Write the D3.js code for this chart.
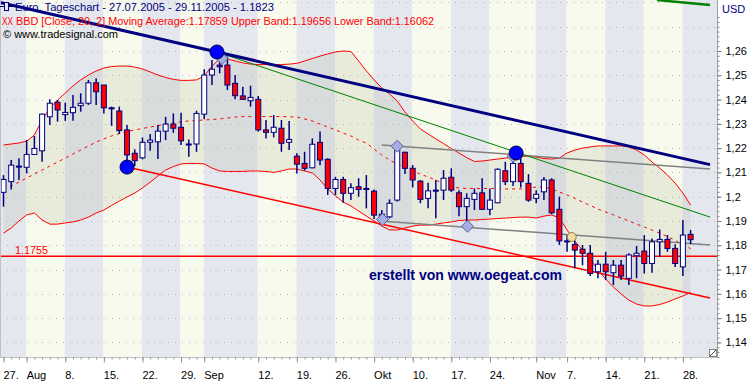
<!DOCTYPE html>
<html><head><meta charset="utf-8">
<script src="https://cdn.jsdelivr.net/npm/d3@7"></script>
<style>body{margin:0;background:#fff}svg{display:block}text{font-family:"Liberation Sans",Arial,sans-serif}</style>
</head><body><svg id="c" width="753" height="383"></svg>
<script>
// ---- data (EUR/USD daily, 27.07.2005 - 29.11.2005) ----
const open  = [1.2018,1.2062,1.2126,1.2121,1.2174,1.2189,1.2329,1.2389,1.2338,1.2346,1.2375,1.2385,1.2469,1.2460,1.2366,1.2353,1.2275,1.2179,1.2160,1.2224,1.2226,1.2270,1.2299,1.2286,1.2217,1.2217,1.2340,1.2501,1.2542,1.2542,1.2467,1.2415,1.2395,1.2401,1.2275,1.2265,1.2282,1.2224,1.2167,1.2137,1.2119,1.2224,1.2154,1.2034,1.2071,1.2014,1.2041,1.2034,1.2023,1.1912,1.1917,1.1986,1.2183,1.2117,1.2064,1.1993,1.2027,1.2027,1.2080,1.2016,1.1959,1.1989,1.2016,1.1948,1.1975,1.2107,1.2062,1.2137,1.2055,1.1993,1.2020,1.2069,1.1948,1.1818,1.1804,1.1784,1.1767,1.1691,1.1722,1.1687,1.1718,1.1664,1.1757,1.1776,1.1725,1.1814,1.1824,1.1787,1.1711,1.1845];
const high  = [1.2089,1.2151,1.2158,1.2233,1.2250,1.2343,1.2401,1.2398,1.2387,1.2419,1.2426,1.2481,1.2488,1.2460,1.2371,1.2371,1.2295,1.2195,1.2244,1.2258,1.2295,1.2329,1.2343,1.2346,1.2236,1.2354,1.2525,1.2563,1.2584,1.2577,1.2501,1.2453,1.2457,1.2415,1.2316,1.2336,1.2316,1.2312,1.2179,1.2185,1.2240,1.2268,1.2158,1.2082,1.2082,1.2055,1.2076,1.2089,1.2030,1.1945,1.1989,1.2206,1.2185,1.2130,1.2069,1.2057,1.2069,1.2110,1.2117,1.2027,1.2014,1.2034,1.2076,1.2034,1.2117,1.2144,1.2172,1.2179,1.2093,1.2027,1.2081,1.2076,1.2000,1.1842,1.1821,1.1801,1.1801,1.1739,1.1773,1.1739,1.1739,1.1767,1.1797,1.1842,1.1828,1.1865,1.1842,1.1804,1.1904,1.1863];
const low   = [1.1959,1.2030,1.2069,1.2096,1.2172,1.2144,1.2295,1.2309,1.2312,1.2313,1.2350,1.2378,1.2378,1.2343,1.2292,1.2258,1.2122,1.2126,1.2154,1.2189,1.2155,1.2233,1.2263,1.2213,1.2165,1.2185,1.2319,1.2460,1.2508,1.2439,1.2401,1.2398,1.2371,1.2268,1.2240,1.2244,1.2185,1.2192,1.2096,1.2107,1.2117,1.2130,1.2007,1.2007,1.1975,1.1986,1.2000,1.1952,1.1908,1.1895,1.1911,1.1980,1.2093,1.2038,1.1973,1.1952,1.1911,1.1986,1.2020,1.1920,1.1872,1.1945,1.1945,1.1924,1.1973,1.2048,1.2044,1.2038,1.1979,1.1973,1.1986,1.1928,1.1801,1.1773,1.1705,1.1718,1.1673,1.1664,1.1657,1.1636,1.1657,1.1636,1.1664,1.1684,1.1687,1.1752,1.1773,1.1711,1.1673,1.1805];
const close = [1.2071,1.2130,1.2126,1.2174,1.2199,1.2340,1.2385,1.2357,1.2347,1.2368,1.2385,1.2469,1.2432,1.2366,1.2366,1.2272,1.2172,1.2148,1.2224,1.2233,1.2270,1.2299,1.2282,1.2230,1.2217,1.2343,1.2501,1.2525,1.2535,1.2460,1.2416,1.2401,1.2409,1.2275,1.2265,1.2286,1.2220,1.2236,1.2134,1.2117,1.2216,1.2151,1.2034,1.2071,1.2014,1.2037,1.2030,1.2034,1.1924,1.1928,1.1973,1.2192,1.2117,1.2069,1.1989,1.2024,1.2027,1.2076,1.2027,1.1959,1.1993,1.2014,1.1948,1.1986,1.2113,1.2062,1.2137,1.2062,1.1986,1.2010,1.2069,1.1934,1.1818,1.1818,1.1780,1.1767,1.1684,1.1722,1.1691,1.1718,1.1673,1.1760,1.1767,1.1725,1.1814,1.1824,1.1787,1.1725,1.1842,1.1823];
const upperBand = [1.2213,1.2217,1.2221,1.2229,1.2254,1.2316,1.2365,1.2398,1.2427,1.2456,1.2481,1.2501,1.2518,1.2530,1.2536,1.2538,1.2538,1.2534,1.2526,1.2514,1.2501,1.2491,1.2483,1.2479,1.2479,1.2481,1.2497,1.2538,1.2567,1.2567,1.2559,1.2551,1.2546,1.2544,1.2544,1.2544,1.2544,1.2546,1.2549,1.2559,1.2569,1.2579,1.2588,1.2596,1.2600,1.2598,1.2559,1.2518,1.2481,1.2448,1.2423,1.2394,1.2349,1.2312,1.2279,1.2258,1.2238,1.2219,1.2198,1.2180,1.2161,1.2145,1.2147,1.2151,1.2155,1.2159,1.2163,1.2165,1.2168,1.2163,1.2157,1.2155,1.2159,1.2180,1.2192,1.2200,1.2205,1.2209,1.2209,1.2209,1.2209,1.2205,1.2192,1.2172,1.2143,1.2118,1.2089,1.2056,1.2015,1.19656];
const midBand   = [1.2032,1.2044,1.2060,1.2077,1.2093,1.2110,1.2126,1.2143,1.2159,1.2176,1.2192,1.2209,1.2225,1.2238,1.2250,1.2260,1.2268,1.2275,1.2281,1.2287,1.2293,1.2299,1.2303,1.2308,1.2312,1.2314,1.2316,1.2318,1.2320,1.2324,1.2328,1.2330,1.2330,1.2330,1.2330,1.2330,1.2330,1.2329,1.2328,1.2320,1.2312,1.2299,1.2287,1.2275,1.2262,1.2250,1.2233,1.2221,1.2196,1.2172,1.2151,1.2135,1.2118,1.2106,1.2093,1.2081,1.2069,1.2052,1.2040,1.2036,1.2034,1.2034,1.2034,1.2034,1.2034,1.2032,1.2032,1.2032,1.2034,1.2040,1.2040,1.2032,1.2019,1.2007,1.1993,1.1978,1.1964,1.1949,1.1937,1.1925,1.1912,1.1900,1.1887,1.1875,1.1863,1.1850,1.1836,1.1820,1.1803,1.17859];
const lowerBand = [1.1850,1.1871,1.1900,1.1925,1.1933,1.1904,1.1887,1.1887,1.1892,1.1896,1.1904,1.1916,1.1933,1.1945,1.1964,1.1982,1.1999,1.2015,1.2036,1.2060,1.2085,1.2110,1.2124,1.2135,1.2137,1.2137,1.2135,1.2118,1.2106,1.2104,1.2104,1.2104,1.2106,1.2106,1.2104,1.2100,1.2106,1.2114,1.2114,1.2106,1.2098,1.2069,1.2032,1.2003,1.1978,1.1962,1.1941,1.1920,1.1900,1.1879,1.1863,1.1863,1.1871,1.1879,1.1883,1.1883,1.1887,1.1892,1.1896,1.1902,1.1904,1.1904,1.1906,1.1908,1.1910,1.1912,1.1914,1.1916,1.1916,1.1912,1.1920,1.1925,1.1912,1.1863,1.1817,1.1780,1.1743,1.1698,1.1661,1.1628,1.1599,1.1574,1.1558,1.1550,1.1550,1.1556,1.1566,1.1579,1.1591,1.16062];
const tickLabels = ["27.","Aug","8.","15.","22.","29.","Sep","12.","19.","26.","Okt","10.","17.","24.","Nov","7.","14.","21.","28."];
const tickIdx    = [0,3,8,13,18,23,26,33,38,43,48,53,58,63,69,73,78,83,88];
const yTicks = [1.14,1.15,1.16,1.17,1.18,1.19,1.20,1.21,1.22,1.23,1.24,1.25,1.26];
const gridLevels = [1.14,1.15,1.16,1.17,1.18,1.19,1.20,1.21,1.22,1.23,1.24,1.25,1.26,1.27,1.28];
const hLine = 1.1755;
// trend lines as [index, price] pairs
const navyLine  = [[-0.45,1.2800],[91.52,1.2132]];
const greenLine = [[27.65,1.2596],[91.52,1.1916]];
const greenTop  = [[84.65,1.2810],[91.52,1.2789]];
const redLine   = [[16.0,1.2122],[91.52,1.1583]];
const grayUpper = [[49.0,1.2213],[91.52,1.2114]];
const grayLower = [[48.8,1.1900],[91.52,1.1801]];
const circles  = [[27.65,1.2596],[16.0,1.2122],[66.4,1.2180]];
const diamonds = [[28.3,1.2569],[51.0,1.2208],[49.1,1.1906],[60.1,1.1878],[66.0,1.2166]];
const yellowMark = [[73.6,1.1834]];

// ---- scales ----
const svg = d3.select("#c");
const PR = 717, PB = 357.5;
const x = d3.scaleLinear().domain([0,89]).range([3.5,690.6]);
const y = d3.scaleLinear().domain([1.14,1.26]).range([342.4,51]);

svg.append("defs").append("clipPath").attr("id","clip")
  .append("rect").attr("x",0).attr("y",0).attr("width",PR).attr("height",PB);
const plot = svg.append("g").attr("clip-path","url(#clip)");

// stripes
const bounds = [0, ...tickIdx.slice(1).map(i=>x(i)-0.5), PR];
plot.selectAll("rect.stripe").data(d3.range(bounds.length-1)).join("rect")
  .attr("x",i=>bounds[i]).attr("y",0).attr("width",i=>bounds[i+1]-bounds[i]).attr("height",PB)
  .attr("fill",i=>i%2===0?"#e4e8ee":"#f7faec");

// band fill
const idx = d3.range(close.length);
plot.append("path").datum(idx)
  .attr("d", d3.area().x(i=>x(i)).y0(i=>y(lowerBand[i])).y1(i=>y(upperBand[i])))
  .attr("fill","rgba(150,150,110,0.14)");

// grid
plot.selectAll("line.grid").data(gridLevels).join("line")
  .attr("x1",0).attr("x2",PR).attr("y1",d=>Math.round(y(d))+0.5).attr("y2",d=>Math.round(y(d))+0.5)
  .attr("stroke","#b4b4b4").attr("stroke-dasharray","1,6");

// band lines
const bl = arr => d3.line().x(i=>x(i)).y(i=>y(arr[i]));
plot.append("path").datum(idx).attr("d",bl(upperBand)).attr("fill","none").attr("stroke","#ff0000").attr("stroke-width",1);
plot.append("path").datum(idx).attr("d",bl(lowerBand)).attr("fill","none").attr("stroke","#ff0000").attr("stroke-width",1);
plot.append("path").datum(idx).attr("d",bl(midBand)).attr("fill","none").attr("stroke","#ff0000").attr("stroke-width",1).attr("stroke-dasharray","3,4");

// horizontal level
plot.append("line").attr("x1",0).attr("x2",PR).attr("y1",y(hLine)).attr("y2",y(hLine))
  .attr("stroke","#ff0000").attr("stroke-width",1.5);

// trend lines
const tl = d3.line().x(d=>x(d[0])).y(d=>y(d[1]));
const drawLine=(d,c,w)=>plot.append("path").datum(d).attr("d",tl).attr("fill","none").attr("stroke",c).attr("stroke-width",w);
drawLine(grayUpper,"#808080",1.5);
drawLine(grayLower,"#808080",1.5);
drawLine(redLine,"#ff0000",1.5);
drawLine(greenLine,"#008000",1);
drawLine(greenTop,"#008000",2.5);

// candles
const cg = plot.append("g");
cg.selectAll("line.wick").data(idx).join("line")
  .attr("x1",i=>x(i)).attr("x2",i=>x(i)).attr("y1",i=>y(high[i])).attr("y2",i=>y(low[i]))
  .attr("stroke","#000080").attr("stroke-width",1.5);
cg.selectAll("rect.body").data(idx).join("rect")
  .attr("x",i=>x(i)-2.5).attr("width",5)
  .attr("y",i=>y(Math.max(open[i],close[i])))
  .attr("height",i=>Math.max(1,Math.abs(y(open[i])-y(close[i]))))
  .attr("fill",i=>close[i]>open[i]?"#ffffff":(close[i]<open[i]?"#ff0000":"#000080"))
  .attr("stroke","#000080").attr("stroke-width",1);

drawLine(navyLine,"#000080",3);

// markers
plot.selectAll("path.dia").data(diamonds).join("path")
  .attr("d",d=>{const cx=x(d[0]),cy=y(d[1]);return `M${cx},${cy-6}L${cx+6},${cy}L${cx},${cy+6}L${cx-6},${cy}Z`;})
  .attr("fill","#a4aee4").attr("stroke","#5a6494").attr("stroke-width",1);
plot.selectAll("circle.yel").data(yellowMark).join("circle")
  .attr("cx",d=>x(d[0])).attr("cy",d=>y(d[1])).attr("r",4.5)
  .attr("fill","#f0dc9c").attr("stroke","#8c7c50").attr("stroke-width",1);
plot.selectAll("circle.big").data(circles).join("circle")
  .attr("cx",d=>x(d[0])).attr("cy",d=>y(d[1])).attr("r",7)
  .attr("fill","#0000ff").attr("stroke","#000040").attr("stroke-width",1);

// frame
svg.append("line").attr("x1",0.5).attr("x2",0.5).attr("y1",0).attr("y2",PB).attr("stroke","#c0c0c0");
svg.append("line").attr("x1",0).attr("x2",PR).attr("y1",PB).attr("y2",PB).attr("stroke","#c0c0c0");

// right axis
const fmt = d=>String(+d.toFixed(2)).replace(".",",");
const ya = svg.append("g").attr("transform",`translate(${PR+0.5},0)`)
  .call(d3.axisRight(y).tickValues(yTicks).tickSize(4).tickPadding(4).tickFormat(fmt));
ya.select(".domain").attr("stroke","#a0a0a0").attr("d",`M0,0V${PB}`);
ya.selectAll(".tick line").attr("stroke","#707070");
ya.selectAll("text").attr("fill","#000").style("font-size","11px").style("font-family","Liberation Sans, Arial, sans-serif");
const minor = d3.range(1.132,1.2801,0.002).filter(v=>y(v)>14 && y(v)<PB);
svg.append("g").attr("transform",`translate(${PR+0.5},0)`)
  .call(d3.axisRight(y).tickValues(minor).tickSize(2).tickFormat(""))
  .call(g=>g.select(".domain").remove())
  .selectAll(".tick line").attr("stroke","#808080");
svg.append("text").attr("x",722).attr("y",13).attr("fill","#000080").style("font-size","11px").text("USD");

// bottom axis
const xa = svg.append("g").attr("transform",`translate(0,${PB})`)
  .call(d3.axisBottom(x).tickValues(idx).tickSize(2).tickFormat(""));
xa.select(".domain").remove();
xa.selectAll(".tick line").attr("stroke","#909090");
const xb = svg.append("g").attr("transform",`translate(0,${PB})`)
  .call(d3.axisBottom(x).tickValues(tickIdx).tickSize(5).tickPadding(9).tickFormat((d,k)=>tickLabels[k]));
xb.select(".domain").remove();
xb.selectAll(".tick line").attr("stroke","#909090");
xb.selectAll("text").attr("text-anchor","start").attr("dx",-0.5).attr("fill","#000")
  .style("font-size","11px").style("font-family","Liberation Sans, Arial, sans-serif");

// resize grip
svg.append("rect").attr("x",709.5).attr("y",349.5).attr("width",7).attr("height",7).attr("fill","#fff").attr("stroke","#808080");
svg.append("line").attr("x1",710).attr("y1",356).attr("x2",716).attr("y2",350).attr("stroke","#404040");

// texts
svg.append("line").attr("x1",0).attr("x2",14).attr("y1",6.5).attr("y2",6.5).attr("stroke","#000080");
svg.append("rect").attr("x",4.5).attr("y",2.5).attr("width",4).attr("height",8).attr("fill","#e4e8ee").attr("stroke","#000080");
svg.append("text").attr("x",15).attr("y",11).attr("fill","#000080").style("font-size","11px")
  .attr("textLength",259).attr("lengthAdjust","spacingAndGlyphs")
  .text("Euro, Tageschart - 27.07.2005 - 29.11.2005 - 1.1823");
svg.append("text").attr("x",2).attr("y",24.5).attr("fill","#ff0000").style("font-size","11px")
  .attr("textLength",11).attr("lengthAdjust","spacingAndGlyphs").text("XX");
svg.append("text").attr("x",16).attr("y",24.5).attr("fill","#ff0000").style("font-size","11px")
  .attr("textLength",418).attr("lengthAdjust","spacingAndGlyphs")
  .text("BBD [Close, 20, 2] Moving Average:1.17859 Upper Band:1.19656 Lower Band:1.16062");
svg.append("text").attr("x",3).attr("y",38).attr("fill","#000").style("font-size","11px")
  .attr("textLength",115).attr("lengthAdjust","spacingAndGlyphs").text("© www.tradesignal.com");
svg.append("text").attr("x",15).attr("y",254).attr("fill","#ff0000").style("font-size","11px")
  .attr("textLength",33).attr("lengthAdjust","spacingAndGlyphs").text("1.1755");
svg.append("text").attr("x",369).attr("y",279.5).attr("fill","#000080").style("font-size","14px").style("font-weight","bold")
  .attr("textLength",193).attr("lengthAdjust","spacingAndGlyphs").text("erstellt von www.oegeat.com");
</script></body></html>
